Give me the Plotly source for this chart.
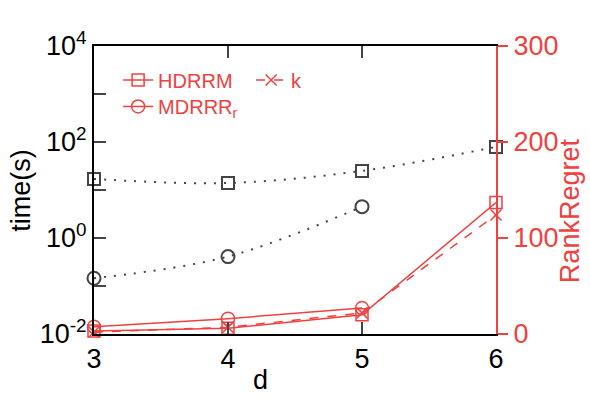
import plotly.graph_objects as go

# dimensao d
d = [3, 4, 5, 6]
d_mdrrr = [3, 4, 5]

# tempo (s), eixo log da esquerda
time_hdrrm = [17, 14, 25, 79]
time_mdrrr = [0.145, 0.41, 4.5]

# rank regret, eixo da direita
rr_hdrrm = [3, 6, 20, 137]
rr_k = [2, 7, 22, 124]
rr_mdrrr = [7.5, 16, 27]

y_tickvals = [1e-2, 1e-1, 1e0, 1e1, 1e2, 1e3, 1e4]
y_ticktext = ['10<sup>-2</sup>', '', '10<sup>0</sup>', '', '10<sup>2</sup>', '', '10<sup>4</sup>']

GRAY = '#444444'
RED = '#f04040'
FONT = 'Arial, Liberation Sans, sans-serif'

fig = go.Figure()

fig.add_trace(go.Scatter(
    x=d, y=time_hdrrm, mode='lines+markers', showlegend=False, cliponaxis=False,
    line=dict(color=GRAY, width=2, dash='2px,8px', shape='spline'),
    marker=dict(symbol='square-open', size=12, color=GRAY, line=dict(width=2))))
fig.add_trace(go.Scatter(
    x=d_mdrrr, y=time_mdrrr, mode='lines+markers', showlegend=False, cliponaxis=False,
    line=dict(color=GRAY, width=2, dash='2px,8px', shape='spline'),
    marker=dict(symbol='circle-open', size=13, color=GRAY, line=dict(width=2))))

fig.add_trace(go.Scatter(
    x=d, y=rr_hdrrm, yaxis='y2', name='HDRRM', legend='legend', mode='lines+markers',
    cliponaxis=False, line=dict(color=RED, width=1.5),
    marker=dict(symbol='square-open', size=12, color=RED, line=dict(width=1.5))))
fig.add_trace(go.Scatter(
    x=d, y=rr_k, yaxis='y2', name='k', legend='legend', mode='lines+markers',
    cliponaxis=False, line=dict(color=RED, width=1.5, dash='dash'),
    marker=dict(symbol='x-thin-open', size=11, color=RED, line=dict(width=1.5, color=RED))))
fig.add_trace(go.Scatter(
    x=d_mdrrr, y=rr_mdrrr, yaxis='y2', name='MDRRR<sub>r</sub>', legend='legend2',
    mode='lines+markers', cliponaxis=False, line=dict(color=RED, width=1.5),
    marker=dict(symbol='circle-open', size=13, color=RED, line=dict(width=1.5))))

fig.update_layout(
    width=590, height=401,
    margin=dict(l=94, r=94, t=46, b=67),
    paper_bgcolor='white', plot_bgcolor='white',
    font=dict(family=FONT, size=27, color='black'),
    xaxis=dict(range=[3, 6], tickvals=d, ticks='inside', ticklen=12, tickwidth=2,
               showline=True, linewidth=2, linecolor='black', mirror='ticks',
               showgrid=False, zeroline=False, tickfont=dict(size=27), automargin=False),
    yaxis=dict(type='log', range=[-2, 4], tickvals=y_tickvals, ticktext=y_ticktext,
               ticks='inside', ticklen=12, tickwidth=2, showline=True, linewidth=2,
               linecolor='black', showgrid=False, zeroline=False, tickfont=dict(size=27),
               automargin=False),
    yaxis2=dict(overlaying='y', side='right', range=[0, 300], dtick=100,
                ticks='outside', ticklen=10, tickwidth=2, showline=True, linewidth=2,
                linecolor=RED, tickcolor=RED, tickfont=dict(size=27, color=RED),
                showgrid=False, zeroline=False, automargin=False),
    legend=dict(orientation='h', x=0.06, y=0.882, xanchor='left', yanchor='middle',
                entrywidth=88, entrywidthmode='pixels',
                bgcolor='rgba(0,0,0,0)', font=dict(size=20, color=RED)),
    legend2=dict(orientation='h', x=0.06, y=0.79, xanchor='left', yanchor='middle',
                 bgcolor='rgba(0,0,0,0)', font=dict(size=20, color=RED)),
    annotations=[
        dict(text='time(s)', xref='paper', yref='paper', x=-0.182, y=0.5, textangle=-90,
             xanchor='center', yanchor='middle', showarrow=False,
             font=dict(size=27, color='black')),
        dict(text='RankRegret', xref='paper', yref='paper', x=1.184, y=0.43, textangle=-90,
             xanchor='center', yanchor='middle', showarrow=False,
             font=dict(size=27, color=RED)),
        dict(text='d', xref='paper', yref='paper', x=0.413, y=-0.16,
             xanchor='center', yanchor='middle', showarrow=False,
             font=dict(size=27, color='black')),
    ],
)

# tira a margem padrao do body para o grafico ficar no canto da janela
fig.write_html("out.html", config={'displayModeBar': False},
               post_script="document.body.style.margin='0';")
